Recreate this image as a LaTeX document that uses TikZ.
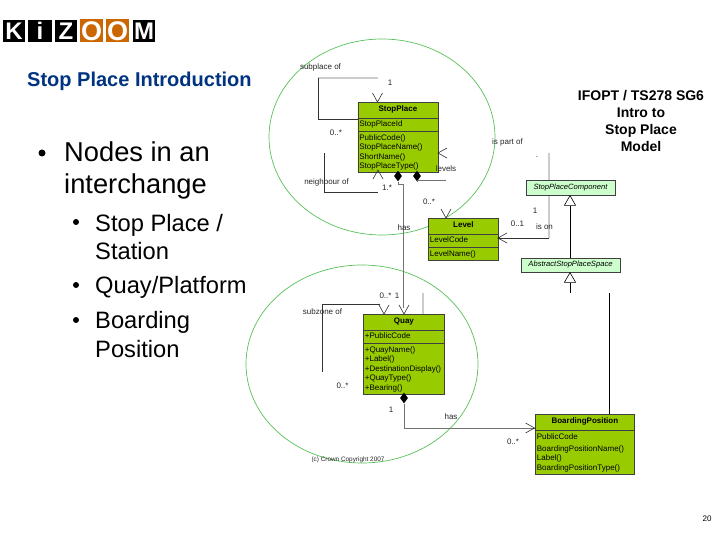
\documentclass[tikz,border=0pt]{standalone}
\usepackage{fontspec}
\setmainfont{Liberation Sans}
\usetikzlibrary{shapes.multipart,shapes.geometric}
\definecolor{umlgreen}{HTML}{99CC00}
\definecolor{palegreen}{HTML}{CCFFCC}
\definecolor{ringgreen}{HTML}{58C058}
\definecolor{titleblue}{HTML}{003380}
\definecolor{zoomorange}{HTML}{CC6600}
\tikzstyle{logo}=[minimum size=22pt,inner sep=0pt,fill=black,text=white,font=\fontsize{24}{24}\selectfont\bfseries]
\tikzstyle{logoo}=[logo,fill=zoomorange,font=\fontsize{27}{27}\selectfont\bfseries]
\tikzstyle{bigtxt}=[anchor=base west,inner sep=0pt,font=\fontsize{27.3}{27.3}\selectfont]
\tikzstyle{subtxt}=[anchor=base west,inner sep=0pt,font=\fontsize{23.7}{23.7}\selectfont]
\tikzstyle{bul}=[circle,fill=black,inner sep=0pt]
\tikzstyle{sidetxt}=[anchor=base,inner sep=0pt,font=\fontsize{14}{14}\selectfont\bfseries]
\tikzstyle{lbl}=[inner sep=0pt,font=\fontsize{8}{8}\selectfont,text=black!85]
\tikzstyle{cls}=[rectangle split,rectangle split parts=3,draw=black!75,fill=umlgreen,anchor=north west,line width=.8pt,
  inner xsep=1.5pt,inner ysep=1pt,align=left,font=\fontsize{8}{9.5}\selectfont]
\tikzstyle{abst}=[draw=black!75,fill=palegreen,line width=.6pt,inner sep=0pt,font=\fontsize{7.6}{8}\selectfont\itshape]
\tikzstyle{ring}=[ringgreen,line width=.7pt]
\tikzstyle{dark}=[black!80,line width=.7pt]
\tikzstyle{mid}=[black!55,line width=.7pt]
\tikzstyle{pale}=[black!20,line width=1.2pt]
\tikzstyle{comp}=[diamond,fill=black,inner sep=0pt,minimum width=8pt,minimum height=11pt]
\tikzstyle{gen}=[regular polygon,regular polygon sides=3,draw=black,fill=white,inner sep=0pt,minimum size=13pt,line width=.6pt]
\tikzset{openv/.pic={\draw[black!80,line width=.6pt] (-5,-9) -- (0,0) -- (5,-9);}}
\newcommand{\hdr}[1]{\rule[-5pt]{0pt}{13pt}\hfill\textbf{#1}\hfill\null}
\newcommand{\attr}[1]{\rule[-3pt]{0pt}{10pt}#1}
\newcommand{\tops}{\rule{0pt}{8pt}}
\newcommand{\bots}{\rule[-2.5pt]{0pt}{2.5pt}}
\begin{document}
\begin{tikzpicture}[x=1pt,y=-1pt]
\useasboundingbox (0,0) rectangle (720,540);
% logo
\node[logo] (logok) at (14,31) {K};
\node[logo,minimum width=24pt] (logoi) at (40,31) {i};
\node[logo] (logoz) at (66,31) {Z};
\node[logoo,minimum size=23pt] (logoa) at (91.5,31) {\textcolor{white}{O}};
\node[logoo,minimum size=23pt] (logob) at (117.5,31) {\textcolor{white}{O}};
\node[logo] (logom) at (144,31) {M};
% left text
\node[anchor=base west,inner sep=0pt,text=titleblue,font=\fontsize{20}{20}\selectfont\bfseries] (title) at (27,87) {Stop Place Introduction};
\node[bul,minimum size=7pt] (b1) at (42,153) {};
\node[bigtxt] (nodes) at (64,162) {Nodes in an};
\node[bigtxt] (inter) at (64,194) {interchange};
\node[bul,minimum size=6pt] (b2) at (76,222) {};
\node[subtxt] (sp) at (95,231) {Stop Place /};
\node[subtxt] (stn) at (95,259) {Station};
\node[bul,minimum size=6pt] (b3) at (76,285) {};
\node[subtxt] (qp) at (95,293) {Quay/Platform};
\node[bul,minimum size=6pt] (b4) at (76,320) {};
\node[subtxt] (brd) at (95,328) {Boarding};
\node[subtxt] (pos) at (95,357) {Position};
\node[sidetxt] (s1) at (641,101) {IFOPT / TS278 SG6};
\node[sidetxt] (s2) at (641,118) {Intro to};
\node[sidetxt] (s3) at (641,135) {Stop Place};
\node[sidetxt] (s4) at (641,152) {Model};
\node[inner sep=0pt,font=\fontsize{8}{8}\selectfont] (pageno) at (707,519) {20};
% rings
\draw[ring] (382,137) ellipse[x radius=113,y radius=98];
\draw[ring] (362,364) ellipse[x radius=116,y radius=99];
% classes
\node[cls,text width=77pt] (stopplace) at (357.5,102) {\hdr{StopPlace}
  \nodepart{second}\attr{StopPlaceId}
  \nodepart{third}\tops PublicCode()\\StopPlaceName()\\ShortName()\\StopPlaceType()\bots};
\node[cls,text width=67pt] (level) at (428,218) {\hdr{Level}
  \nodepart{second}\attr{LevelCode}
  \nodepart{third}\tops LevelName()\bots};
\node[cls,text width=78pt] (quay) at (363,314) {\hdr{Quay}
  \nodepart{second}\attr{+PublicCode}
  \nodepart{third}\tops +QuayName()\\+Label()\\+DestinationDisplay()\\+QuayType()\\+Bearing()\bots};
\node[cls,rectangle split parts=2,text width=96pt] (boardpos) at (535,414) {\hdr{BoardingPosition}
  \nodepart{second}\tops PublicCode\\[2pt]BoardingPositionName()\\Label()\\BoardingPositionType()\bots};
\node[abst,minimum width=99pt,minimum height=14pt] (absspace) at (570.5,265) {AbstractStopPlaceSpace};
% subplace of
\coordinate (sub1) at (318,78);
\coordinate (sub2) at (378,78);
\coordinate (sub3) at (stopplace.north west |- 0,119);
\draw[pale] (sub1) -- (sub2);
\draw[dark] (sub1) -- (318,119) -- (sub3);
\pic at (377.5,102) {openv};
\node[lbl] (lsub) at (320.5,67) {subplace of};
\node[lbl] (lsub1) at (390,83) {1};
\node[lbl] (lsub0) at (336,133) {0..*};
% neighbour of
\coordinate (nb1) at (324,153);
\coordinate (nb2) at (378,192);
\draw[dark] (nb1) |- (nb2);
\pic[rotate=180] at (378,170) {openv};
\node[lbl] (lnb) at (326.5,182) {neighbour of};
\node[lbl] (lnb1) at (387,188) {1.*};
% is part of
\pic[rotate=-90] at (438,153) {openv};
\node[lbl] (lpart) at (507.5,142) {is part of};
\node[lbl] (ldot) at (537,157) {.};
\node[lbl] (llev) at (446,169) {levels};
\node[comp] (dia1) at (398,176) {};
\node[comp] (dia2) at (417,176) {};
\coordinate (lv1) at (446,180);
\draw[mid] (dia2.south) |- (lv1);
% has level / quay
\coordinate (hs1) at (403,184);
\coordinate (hs2) at (403,308);
\draw[mid] (dia1.south) |- (hs1) -- (hs2);
\pic at (404,314) {openv};
\pic at (446,218) {openv};
\node[lbl] (l0a) at (429,202) {0..*};
\node[lbl] (lhas1) at (404,228) {has};
% is on
\coordinate (on1) at (549,153);
\coordinate (on2) at (549,238);
\draw[pale] (on1) -- (on2);
\draw[dark] (on2) -- (level.east |- on2);
\fill[black] (level.east |- on2) circle[radius=1.3];
\pic[rotate=-90] at (498,238) {openv};
\node[lbl] (lon0) at (517.5,224) {0..1};
\node[lbl] (lon1) at (535,211) {1};
\node[lbl] (lon) at (544.5,227) {is on};
\node[abst,minimum width=89pt,minimum height=15pt] (spcomp) at (570.5,187.5) {StopPlaceComponent};
% inheritance
\node[gen,anchor=corner 1] (tri1) at (570,195) {};
\draw[dark,black] (tri1.side 2) -- (absspace.north -| tri1.side 2);
\node[gen,anchor=corner 1] (tri2) at (570,272) {};
\coordinate (gn1) at (570,293);
\draw[dark,black] (tri2.side 2) -- (gn1);
\coordinate (bp1) at (609,293);
\draw[dark,black] (bp1) -- (boardpos.north -| bp1);
% subzone of
\coordinate (sz1) at (322,372);
\coordinate (sz2) at (380,304);
\draw[dark] (sz1) |- (sz2);
\pic at (384,314) {openv};
\node[lbl] (lsz) at (322.5,312) {subzone of};
\node[lbl] (lsz0) at (342.5,386) {0..*};
\node[lbl] (lq0) at (385.5,296) {0..*};
\node[lbl] (lq1) at (397,296) {1};
\coordinate (qp1) at (423,293);
\draw[pale] (qp1) -- (quay.north -| qp1);
% has boarding position
\node[comp] (dia3) at (404,398) {};
\coordinate (bd1) at (404,428);
\draw[mid] (dia3.south) -- (bd1) -- (boardpos.west |- bd1);
\pic[rotate=90] at (534.5,428) {openv};
\node[lbl] (lq2) at (391,410) {1};
\node[lbl] (lhas2) at (451,417) {has};
\node[lbl] (lb0) at (513,442) {0..*};
\node[lbl,font=\fontsize{6.4}{6.4}\selectfont] (copyr) at (348,460) {(c) Crown Copyright 2007};
\end{tikzpicture}
\end{document}
